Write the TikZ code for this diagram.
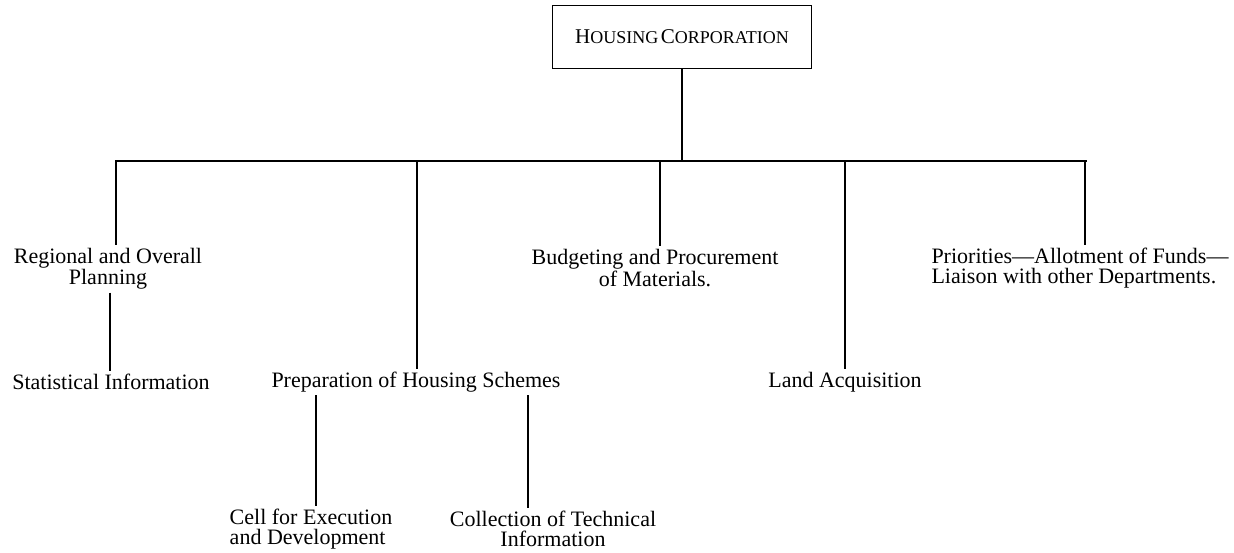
\documentclass[tikz,border=0pt]{standalone}
\usepackage{fontspec}
\setmainfont{Liberation Serif}
\newcommand{\fsc}[2]{{\fontsize{21}{21}\selectfont #1}{\fontsize{18}{18}\selectfont #2}}
\begin{document}
\begin{tikzpicture}[x=1pt,y=-1pt,
  lbl/.style={inner sep=3pt,font=\fontsize{22}{20}\selectfont,align=center},
  lbll/.style={lbl,align=left},
  conn/.style={line width=1.7pt},
  topbox/.style={draw,line width=1.6pt,minimum width=259pt,minimum height=63pt,inner sep=0pt}]
\useasboundingbox (0,0) rectangle (1234,552);
\node[topbox] (hc) at (682,37) {\fsc{H}{OUSING} \fsc{C}{ORPORATION}};
\coordinate (busL) at (115,161);
\coordinate (busR) at (1087,161);
\node[lbl] (reg) at (108,269) {Regional and Overall\\Planning};
\node[lbl] (stat) at (111,382) {Statistical Information};
\node[lbl] (prep) at (416,382) {Preparation of Housing Schemes};
\node[lbl] (bud) at (655,268) {Budgeting and Procurement\\of Materials.};
\node[lbl] (land) at (845,382) {Land Acquisition};
\node[lbll] (pri) at (1080,268) {Priorities---Allotment of Funds---\\Liaison with other Departments.};
\node[lbll] (cell) at (311,529) {Cell for Execution\\and Development};
\node[lbl] (coll) at (553,529) {Collection of Technical\\Information};
\coordinate (d1) at (116,161);
\coordinate (d2) at (417,161);
\coordinate (d3) at (660,161);
\coordinate (d4) at (845,161);
\coordinate (d5) at (1085,161);
\coordinate (s1) at (110,0);
\coordinate (s2) at (316,0);
\coordinate (s3) at (528,0);
\draw[conn] (busL) -- (busR);
\draw[conn] (hc.south) -- (hc.south |- busL);
\draw[conn] (d1) -- (d1 |- reg.north);
\draw[conn] (d2) -- (d2 |- prep.north);
\draw[conn] (d3) -- (d3 |- bud.north);
\draw[conn] (d4) -- (d4 |- land.north);
\draw[conn] (d5) -- (d5 |- pri.north);
\draw[conn] (s1 |- reg.south) -- (s1 |- stat.north);
\draw[conn] (s2 |- prep.south) -- (s2 |- cell.north);
\draw[conn] (s3 |- prep.south) -- (s3 |- coll.north);
\end{tikzpicture}
\end{document}
